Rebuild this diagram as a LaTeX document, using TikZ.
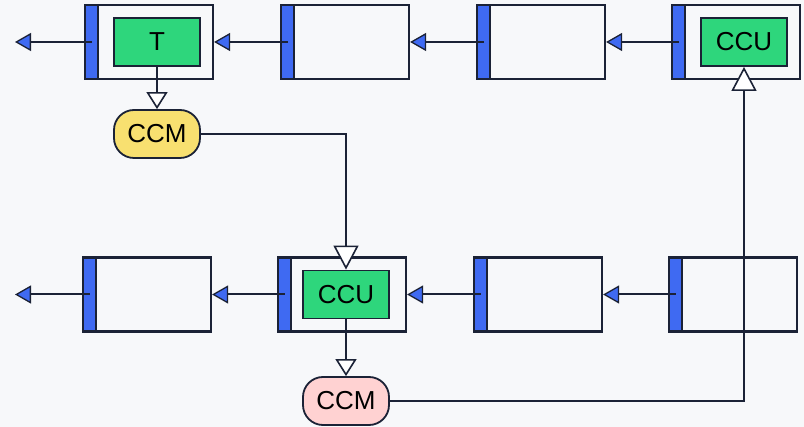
\documentclass[tikz,border=0pt]{standalone}
\usepackage{fontspec}
\setmainfont{Liberation Sans}
\usetikzlibrary{arrows.meta}
\definecolor{bgc}{HTML}{F7F8FA}
\definecolor{ink}{HTML}{1B2236}
\definecolor{stripec}{HTML}{3F6AF2}
\definecolor{greenc}{HTML}{2ED67C}
\definecolor{yellowc}{HTML}{F8E070}
\definecolor{pinkc}{HTML}{FFD2D2}
\tikzset{
  frame/.style={draw=ink, line width=2.2pt, fill=bgc, minimum width=128pt, minimum height=74pt, inner sep=0pt},
  stripe/.style={draw=ink, line width=2.2pt, fill=stripec, minimum width=13pt, minimum height=74pt, inner sep=0pt},
  unit/.style={draw=ink, line width=1.8pt, fill=greenc, minimum width=86pt, minimum height=48pt, inner sep=0pt, font=\fontsize{26}{28}\selectfont},
  cache/.style={draw=ink, line width=1.8pt, rounded corners=20pt, minimum width=86pt, minimum height=48pt, inner sep=0pt, font=\fontsize{26}{28}\selectfont},
  flow/.style={draw=ink, line width=2pt, -{Triangle[length=16pt, width=18pt, fill=stripec, line width=1.3pt]}},
  link/.style={draw=ink, line width=2pt, -{Triangle[length=17pt, width=21pt, fill=white, line width=1.6pt]}},
  biglink/.style={link, -{Triangle[length=24pt, width=25pt, fill=white, line width=1.6pt]}},
}
\begin{document}
\begin{tikzpicture}[x=1pt, y=-1pt]
  \fill[bgc] (0,0) rectangle (804,427);
  \useasboundingbox (0,0) rectangle (804,427);

  % upper chain
  \node[frame] (a1) at (149,42) {};
  \node[frame] (a2) at (345,42) {};
  \node[frame] (a3) at (541,42) {};
  \node[frame] (a4) at (736,42) {};
  \node[stripe] (sa1) at (91.5,42) {};
  \node[stripe] (sa2) at (287.5,42) {};
  \node[stripe] (sa3) at (483.5,42) {};
  \node[stripe] (sa4) at (678.5,42) {};
  \node[unit] (t) at (157,42) {T};
  \node[unit] (ccu1) at (744,42) {CCU};
  \coordinate (outa) at (15,42);

  % lower chain
  \node[frame] (b1) at (147,294.5) {};
  \node[frame] (b2) at (342,294.5) {};
  \node[frame] (b3) at (538,294.5) {};
  \node[frame] (b4) at (733,294.5) {};
  \node[stripe] (sb1) at (89.5,294.5) {};
  \node[stripe] (sb2) at (284.5,294.5) {};
  \node[stripe] (sb3) at (480.5,294.5) {};
  \node[stripe] (sb4) at (675.5,294.5) {};
  \node[unit] (ccu2) at (346,294.5) {CCU};
  \coordinate (outb) at (15,294.5);

  % caches
  \node[cache, fill=yellowc] (ccm1) at (157,134) {CCM};
  \node[cache, fill=pinkc] (ccm2) at (346,401) {CCM};

  % chain links
  \draw[flow] (sa1.center) -- (outa);
  \draw[flow] (sa2.center) -- (a1.east);
  \draw[flow] (sa3.center) -- (a2.east);
  \draw[flow] (sa4.center) -- (a3.east);
  \draw[flow] (sb1.center) -- (outb);
  \draw[flow] (sb2.center) -- (b1.east);
  \draw[flow] (sb3.center) -- (b2.east);
  \draw[flow] (sb4.center) -- (b3.east);

  % cache links
  \draw[link] (t.south) -- (ccm1.north);
  \draw[biglink] (ccm1.east) -| (ccu2.north);
  \draw[link] (ccu2.south) -- (ccm2.north);
  \draw[biglink] (ccm2.east) -| (ccu1.south);
\end{tikzpicture}
\end{document}
